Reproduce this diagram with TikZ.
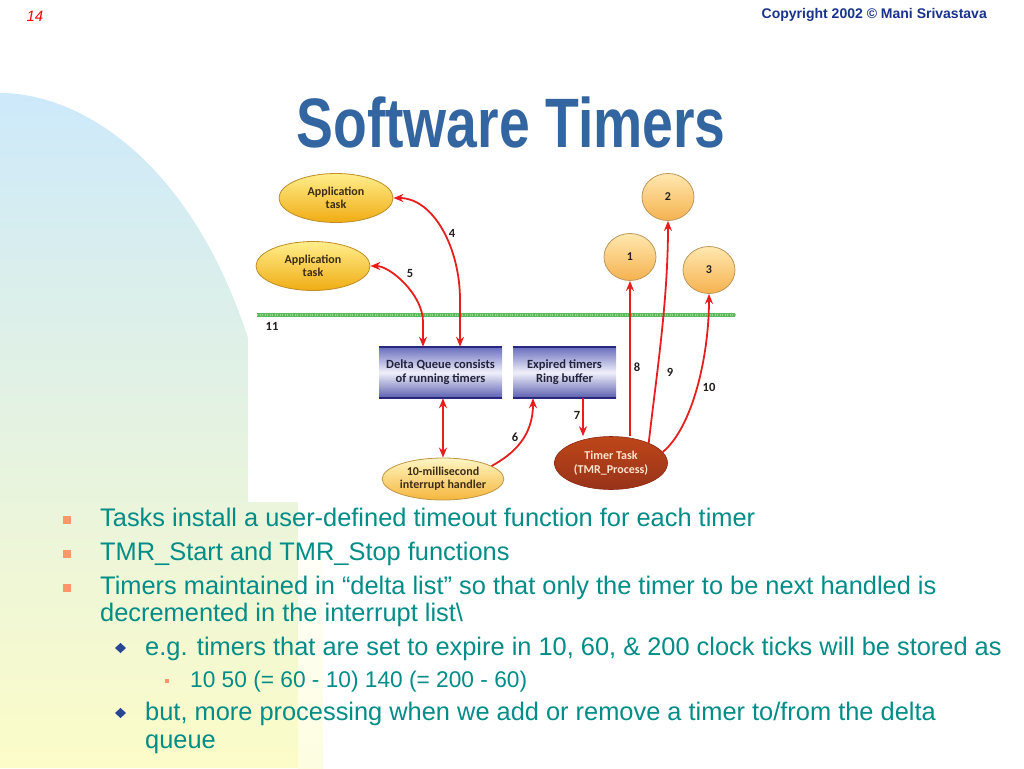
\documentclass[tikz,border=0pt]{standalone}
\usepackage{fontspec}
\setmainfont{Liberation Sans}
\newfontfamily\diagfont{Carlito}
\usetikzlibrary{calc, shapes.geometric, arrows.meta}

\definecolor{bgblue}{RGB}{205,233,250}
\definecolor{bgyellow}{RGB}{252,252,200}
\definecolor{titleblue}{RGB}{51,102,160}
\definecolor{copyblue}{RGB}{25,50,140}
\definecolor{textteal}{RGB}{0,140,135}
\definecolor{bulletorange}{RGB}{250,150,105}
\definecolor{diamondblue}{RGB}{40,70,150}
\definecolor{arrowred}{RGB}{232,30,30}
\definecolor{barblue}{RGB}{40,40,125}
\definecolor{taskbrown}{RGB}{178,60,30}
\definecolor{appborder}{RGB}{190,140,40}
\definecolor{apptop}{RGB}{255,238,140}
\definecolor{appbottom}{RGB}{240,172,20}
\definecolor{apptext}{RGB}{60,45,20}
\definecolor{ballborder}{RGB}{190,150,90}
\definecolor{balltop}{RGB}{255,232,175}
\definecolor{ballbottom}{RGB}{245,178,80}
\definecolor{boxtop}{RGB}{105,110,190}
\definecolor{boxmid}{RGB}{240,240,250}
\definecolor{boxbottom}{RGB}{90,95,175}
\definecolor{boxtext}{RGB}{35,35,60}
\definecolor{msborder}{RGB}{190,150,70}
\definecolor{mstop}{RGB}{255,246,195}
\definecolor{msbottom}{RGB}{245,182,60}
\definecolor{taskborder}{RGB}{140,40,20}
\definecolor{tasktext}{RGB}{255,228,205}
\definecolor{labeltext}{RGB}{35,30,30}
\definecolor{bargreen}{RGB}{95,185,95}
\definecolor{barlight}{RGB}{150,215,140}

\tikzstyle{every node}=[inner sep=0pt]
\tikzset{
	apptask/.style={ellipse, draw=appborder, line width=0.8pt,
		top color=apptop, bottom color=appbottom,
		minimum width=114pt, minimum height=49pt, align=center,
		font=\diagfont\bfseries\fontsize{12}{13}\selectfont, text=apptext},
	timerball/.style={ellipse, draw=ballborder, line width=0.8pt,
		top color=balltop, bottom color=ballbottom,
		minimum width=52pt, minimum height=47pt,
		font=\diagfont\bfseries\fontsize{12}{13}\selectfont, text=labeltext},
	queuebox/.style={rectangle, minimum height=51pt, align=center,
		top color=boxtop, bottom color=boxbottom, middle color=boxmid,
		font=\diagfont\bfseries\fontsize{12.5}{14}\selectfont, text=boxtext},
	boxedge/.style={draw=barblue, line width=2pt},
	handler/.style={ellipse, draw=msborder, line width=0.8pt,
		top color=mstop, bottom color=msbottom,
		minimum width=113pt, minimum height=42pt, align=center,
		font=\diagfont\bfseries\fontsize{12}{13}\selectfont, text=apptext},
	timertask/.style={ellipse, draw=taskborder, line width=0.6pt,
		top color=taskbrown!85!orange, bottom color=taskbrown!85!black,
		minimum width=113pt, minimum height=53pt, align=center,
		font=\diagfont\bfseries\fontsize{12}{14}\selectfont, text=tasktext},
	redarrow/.style={draw=arrowred, line width=1.8pt, -{Stealth[length=10pt, width=8pt]}},
	twoway/.style={redarrow, {Stealth[length=10pt, width=8pt]}-{Stealth[length=10pt, width=8pt]}},
	steplabel/.style={font=\diagfont\bfseries\fontsize{12.5}{13}\selectfont, text=labeltext},
	lvlone/.style={anchor=base west, text=textteal, font=\fontsize{25.4}{30}\selectfont},
	lvltwo/.style={lvlone},
	lvlthree/.style={lvlone, font=\fontsize{22.7}{27}\selectfont}
}

\begin{document}
\begin{tikzpicture}[x=1pt, y=-1pt]
	\useasboundingbox (0,0) rectangle (1024,768);

% FOND

	\shade[top color=bgblue, bottom color=bgyellow]
		(0,93) .. controls (80,93) and (190,160) .. (248,338) -- (248,502)
		-- (298,502) -- (298,768) -- (0,768) -- cycle;
	\shade[top color=white, bottom color=bgyellow!55!white]
		(298,502) rectangle (323,768);

% EN-TETE

	\node[anchor=base, text=red, font=\itshape\fontsize{15}{18}\selectfont] (page) at (35,22) {14};
	\node[anchor=base east, text=copyblue, font=\bfseries\fontsize{14}{17}\selectfont] (copy) at (987,19)
		{Copyright 2002 © Mani Srivastava};
	\node[anchor=base, text=titleblue, font=\bfseries\fontsize{70}{80}\selectfont] (title) at (511,147)
		{\scalebox{0.79}[1]{Software Timers}};

% SCHEMA

	% ligne verte
	\coordinate (gl1) at (257,315);
	\coordinate (gl2) at (735,315);
	\draw[line width=4pt, bargreen] (gl1) -- (gl2);
	\draw[line width=1.5pt, barlight, dash pattern=on 1pt off 1.5pt] (gl1) -- (gl2);

	% taches
	\node[apptask] (app1) at (336,198) {Application\\task};
	\node[apptask] (app2) at (313,266) {Application\\task};
	\node[timerball] (c1) at (630,257) {1};
	\node[timerball] (c2) at (668,197) {2};
	\node[timerball] (c3) at (709,270) {3};

	% files
	\node[queuebox, minimum width=123pt] (dq) at (440.5,372.5) {Delta Queue consists\\of running timers};
	\node[queuebox, minimum width=103pt] (ring) at (564.5,372.5) {Expired timers\\Ring buffer};
	\foreach \b in {dq, ring} {
		\draw[boxedge] (\b.north west) -- (\b.north east);
		\draw[boxedge] (\b.south west) -- (\b.south east);
	}

	\node[handler] (ms) at (443,479) {10-millisecond\\interrupt handler};
	\node[timertask] (tt) at (611,463) {Timer Task\\(TMR\_Process)};

	% fleches
	\coordinate (q4) at ($(dq.north)+(19.5,0)$);
	\coordinate (q5) at ($(dq.north)+(-17.5,0)$);
	\coordinate (r6) at ($(ring.south)+(-31.5,0)$);
	\coordinate (r7) at ($(ring.south)+(18.5,0)$);

	\draw[twoway] (app1.east) .. controls +(40,0) and +(0,-52) .. ($(q4)+(0,-47)$) -- (q4);
	\draw[twoway] (app2.east) .. controls +(20,0) and +(0,-27) .. ($(q5)+(0,-25)$) -- (q5);
	\draw[twoway] (ms.north |- dq.south) -- (ms.north);
	\draw[redarrow] (ms.15) .. controls +(22,-12) and +(0,38) .. (r6);
	\draw[redarrow] (r7) -- (r7 |- tt.north);
	\draw[redarrow] (c1.south |- tt.north) -- (c1.south);
	\draw[redarrow] (tt.28) .. controls +(8,-70) and +(0,80) .. (c2.south);
	\draw[redarrow] (tt.12) .. controls +(30,-25) and +(0,62) .. (c3.south);

	% numeros
	\foreach \n/\x/\y in {4/452/233, 5/410/273, 6/515/437, 7/577/415, 8/637/367, 9/670/372, 10/709/387, 11/272/326}
		\node[steplabel] (n\n) at (\x,\y) {\n};

% TEXTE

	\foreach \y in {526,560,594}
		\fill[bulletorange] (63,\y-10) rectangle +(8,8);
	\foreach \y in {655,720}
		\fill[diamondblue] (115,\y-7) -- (120.5,\y-12) -- (126,\y-7) -- (120.5,\y-2) -- cycle;
	\fill[bulletorange] (165,679) rectangle +(4,4);

	\node[lvlone] (t1) at (100,526) {Tasks install a user-defined timeout function for each timer};
	\node[lvlone] (t2) at (100,560) {TMR\_Start and TMR\_Stop functions};
	\node[lvlone] (t3) at (100,594) {Timers maintained in “delta list” so that only the timer to be next handled is};
	\node[lvlone] (t3b) at (100,621) {decremented in the interrupt list\textbackslash};
	\node[lvltwo] (t4) at (145,655) {e.g. timers that are set to expire in 10, 60, \& 200 clock ticks will be stored as};
	\node[lvlthree] (t5) at (190,687) {10 50 (= 60 - 10) 140 (= 200 - 60)};
	\node[lvltwo] (t6) at (145,720) {but, more processing when we add or remove a timer to/from the delta};
	\node[lvltwo] (t6b) at (145,748) {queue};

\end{tikzpicture}
\end{document}
